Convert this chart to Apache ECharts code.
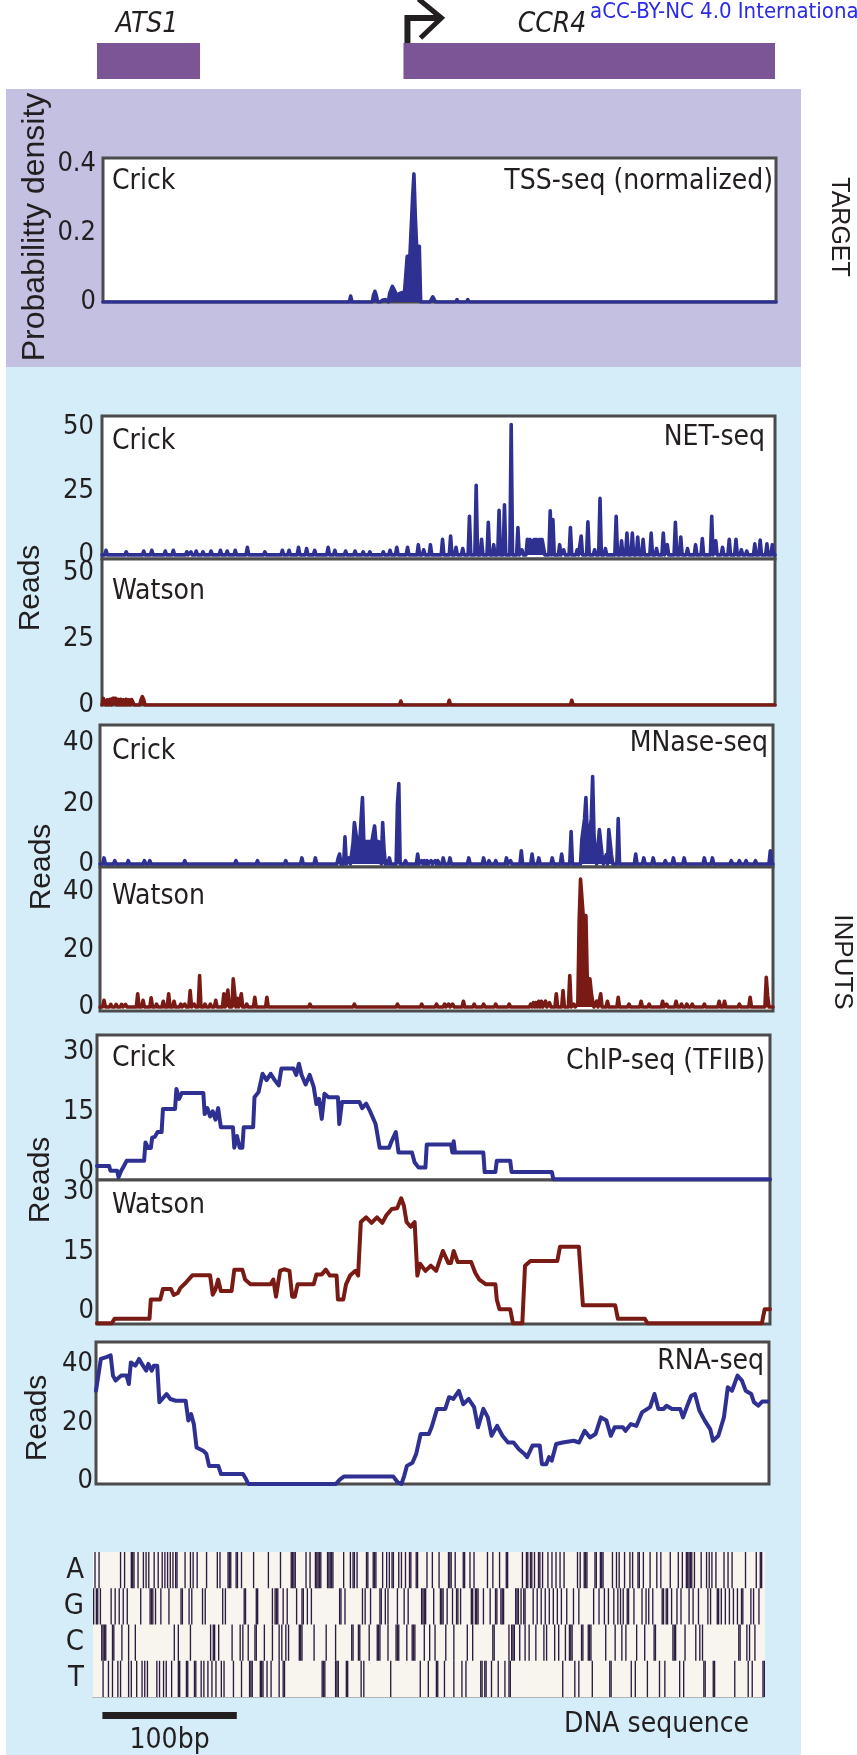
<!DOCTYPE html>
<html>
<head>
<meta charset="utf-8">
<title>CCR4 locus tracks</title>
<script src="https://cdn.jsdelivr.net/npm/echarts@6.0.0/dist/echarts.min.js"></script>
<style>
  html, body { margin: 0; padding: 0; background: #fff; }
  #main { width: 857px; height: 1755px; }
</style>
</head>
<body>
<div id="main"></div>
<script>
// window is 500 bp wide, positions below are bp from the left edge
var windowEnd = 500;

// genes
var geneNames = ['ATS1', 'CCR4'];
var geneStart = [0, 226];
var geneEnd = [76, 500];
var geneArrow = [0, 1];

// tick labels
var tssTicks = [0, 0.2, 0.4];
var netTicks = [0, 25, 50];
var mnaseTicks = [0, 20, 40];
var chipTicks = [0, 15, 30];
var rnaTicks = [0, 20, 40];

// TSS-seq (normalized), Crick: [bp, probability density]
var tssCrick = [[184,0.017],[201,0.02],[202,0.031],[203,0.02],[207,0.005],[208,0.006],[209,0.005],[210,0.007],[211,0.008],
  [213,0.025],[214,0.035],[215,0.045],[216,0.049],[217,0.03],[218,0.018],[219,0.022],[220,0.024],[221,0.024],[222,0.027],
  [223,0.028],[224,0.028],[225,0.03],[226,0.132],[227,0.132],[228,0.132],[229,0.132],[230,0.3],[231,0.37],[232,0.25],
  [233,0.161],[234,0.161],[235,0.161],[244,0.008],[245,0.015],[246,0.008],[263,0.007],[271,0.007]];

// NET-seq reads: [bp, reads]
var netCrick = [[3,1.8],[18,1.2],[31,1.5],[37,1.8],[47,1.5],[53,1.8],[63,1.2],[66,1.2],[70,1.5],[75,1.2],[81,1.5],[88,1.8],
  [93,1.5],[99,1.8],[108,3],[121,1.2],[134,1.8],[139,1.8],[146,3],[152,2.5],[158,1.8],[168,3],[173,1.8],[181,1.5],[188,1.5],
  [194,1.2],[199,1.2],[209,1.2],[214,1.8],[219,3],[227,3],[235,4],[239,2],[244,4],[253,6.1],[259,7.4],[263,3],[268,2.5],
  [273,15.1],[278,27.2],[282,6.1],[287,12.7],[291,4],[295,17.4],[299,19.6],[304,51],[309,10.7],[312,2],[316,6.1],[317,4.5],
  [318,6],[319,6],[320,5],[321,6],[322,6],[323,6],[324,4],[325,6],[326,6],[327,6],[328,6.1],[333,17.2],[335,13.8],[340,4],
  [343,2],[348,10.7],[353,2],[356,7.4],[361,12.9],[366,2],[370,22.1],[374,2.5],[382,15.1],[386,5.5],[390,8.5],[394,8.5],
  [398,7],[402,6.1],[408,8.5],[412,2.5],[417,8.5],[420,4],[426,12.7],[430,7],[435,2.5],[441,4],[446,6.4],[453,15.1],
  [456,5.5],[461,3],[466,6.1],[471,6.1],[475,2],[479,1.5],[485,4.3],[489,5.8],[494,4.3],[498,4]];
var netWatson = [[1,2.5],[2,2],[4,2],[6,2.2],[8,2.5],[9,3.2],[10,2.5],[12,2.2],[14,2.2],[16,2],[18,2.2],[20,2],[22,2.1],
  [23,1.5],[29,2],[30,3.2],[31,2],[222,1.5],[258,1.8],[349,1.8]];

// MNase-seq reads: [bp, reads]
var mnaseCrick = [[3,2],[11,1.1],[21,1.1],[33,1.1],[37,1.1],[63,1.1],[101,1.1],[117,1.1],[138,1.1],[150,2],[160,2],[177,2],
  [178,3.3],[182,9],[185,2],[188,7],[189,13.7],[190,13.7],[191,7.4],[192,7.4],[193,7.4],[194,15],[195,22],[196,7.4],
  [197,7.4],[198,7.4],[199,7.4],[200,7.4],[201,7.4],[202,7.4],[203,7.4],[204,12.6],[205,7.4],[206,7.4],[207,7.4],[208,2],
  [210,13.7],[211,5],[213,1],[215,2],[221,20],[222,26.6],[227,1.1],[236,3.3],[239,1.1],[241,1.1],[243,1.1],[246,1.1],
  [249,1.1],[251,1.1],[255,2],[260,2],[274,2],[285,2],[289,1.1],[294,1.1],[302,2],[305,1.1],[313,4.4],[321,3.3],[326,2],
  [336,2],[343,3.3],[350,10.7],[358,8.2],[359,8],[360,15],[361,22],[362,10],[363,8],[364,8],[365,15],[366,28.9],[367,10],
  [368,3],[371,11.4],[372,11.4],[373,3],[376,3],[378,11.4],[379,11.4],[380,3],[385,15],[398,3.3],[404,2],[411,2],[420,1.1],
  [426,2],[434,2],[449,2],[455,2],[469,1.1],[475,1.1],[480,1.1],[487,1.1],[498,4.4]];
var mnaseWatson = [[3,2.3],[8,0.9],[12,0.9],[16,0.9],[19,0.9],[28,4.6],[32,2.3],[38,3.2],[42,1],[47,2],[51,4.6],[55,2],
  [60,1],[63,1],[67,5.7],[70,1],[74,10.9],[78,1],[82,1],[86,2.3],[92,4.6],[95,5.9],[99,9.8],[100,5],[102,3],[105,4.6],
  [109,1],[115,3.4],[124,3.4],[156,1],[189,1],[221,1],[239,1],[250,1],[256,1],[259,1],[262,1],[270,2],[278,1],[285,1],
  [294,1],[304,1],[320,1],[322,1.5],[324,1.5],[326,2],[328,2],[331,2],[334,1.5],[339,4.6],[344,5.7],[349,10.9],[352,1],
  [355,1],[356,30],[357,44.5],[358,44.5],[359,31.8],[360,31.8],[361,31.8],[362,9.8],[363,9.8],[364,9.8],[365,5],[366,2],
  [369,2],[372,4.6],[377,2],[385,3.4],[393,1],[402,2],[408,1],[418,2],[421,1],[428,2],[432,1],[436,1],[440,1],[449,1],
  [460,2],[464,2],[475,1],[483,3.4],[495,10.3],[496,4]];

// ChIP-seq (TFIIB) reads: [bp, reads]
var chipCrick = [[0,1.5],[9,1.5],[10,0.3],[15,0.3],[16,-1.3],[18,0.3],[20,1.5],[22,2.8],[35,2.8],[36,7.4],[38,6],[40,6],
  [41,8.6],[43,8.8],[45,10],[48,10],[49,15.8],[58,15.8],[59,20.8],[61,18.3],[63,19.8],[79,19.8],[80,14.5],[82,16],[84,13.9],
  [86,15.2],[88,13.1],[90,16],[92,11.2],[101,11.2],[102,6.1],[104,9],[106,6.1],[108,6.1],[109,11.2],[116,11.2],[117,18.7],
  [120,20],[123,24.6],[126,23],[129,24.6],[132,23],[135,21.7],[137,25.9],[146,25.9],[148,24.3],[150,27.1],[152,24.3],
  [155,21.9],[158,24.3],[161,21.3],[163,17],[165,18.3],[167,13.3],[169,19.6],[172,18.7],[179,18.7],[180,12],[182,17.5],
  [195,17.5],[197,16],[200,17.1],[203,15.1],[207,12],[210,6.1],[217,6.1],[219,7.8],[222,10],[224,4.9],[234,4.9],[236,2.4],
  [239,1.1],[244,1.1],[245,6.9],[263,6.9],[264,4.9],[265,7.7],[266,4.9],[287,4.9],[288,0],[296,0],[297,2.8],[307,2.8],
  [308,0],[338,0],[339,-1.8],[500,-1.8]];
var chipWatson = [[0,-3],[11,-3],[13,-1.9],[39,-1.9],[40,3],[47,3],[49,5.6],[55,5.6],[57,4.1],[60,4.6],[62,5.9],[66,7.2],
  [68,8],[71,9.1],[84,9.1],[86,4.2],[88,5.5],[90,8],[92,5.1],[100,5.1],[102,10.5],[108,10.5],[110,8],[114,6.8],[129,6.8],
  [131,8],[133,3.7],[136,10.2],[139,10.6],[143,10.2],[145,3.7],[147,3.7],[149,6.8],[161,6.8],[163,9.3],[167,9.3],[170,10.5],
  [173,9],[178,9],[179,3],[183,3],[185,6.8],[188,9],[192,10.2],[194,9],[196,22.5],[200,23.7],[204,22.3],[208,23.7],
  [212,22.3],[215,24.2],[219,25.8],[223,26],[226,28.5],[228,26.6],[230,22.5],[233,21.3],[236,22.5],[238,9],[240,12],
  [244,10.2],[248,11.5],[252,10.2],[255,13.2],[257,15.2],[261,12.2],[263,12.2],[265,15.2],[268,12.4],[278,12.4],[281,9.7],
  [284,8],[289,6.8],[296,6.8],[297,3],[299,0.5],[307,0.5],[309,-3],[316,-3],[318,11.5],[322,12.7],[342,12.7],[344,16.3],
  [358,16.3],[361,1.5],[385,1.5],[387,-1.9],[407,-1.9],[409,-3],[494,-3],[496,0.5],[500,0.5]];

// RNA-seq reads: [bp, reads]
var rnaReads = [[0,30.9],[3.6,41.8],[7.7,42.4],[10.9,43],[12.6,36.1],[14.6,34.4],[18.6,36.1],[22.7,36.1],[24.4,33.2],
  [25.9,40.6],[29.2,39.5],[32,41.8],[34.9,39.5],[37.3,37.8],[38.9,40.1],[41.4,37.8],[43,39.5],[45.5,39.5],[47.1,27],
  [50.3,28.7],[52.4,29.8],[55.2,28.1],[59.3,27.5],[66.6,27.5],[68.6,20.7],[70.7,22.9],[72.7,19.5],[74.7,11.5],[79.6,10.4],
  [82,9.3],[84,5.2],[90.9,5.2],[92.9,2.4],[109.2,2.4],[111.2,0.9],[113.2,-1],[178.2,-1],[181.1,0.5],[184.3,1.6],[220.8,1.6],
  [224.1,-0.4],[226.9,-1],[229,1.8],[231,5.2],[235.1,6.3],[237.9,9.3],[241.2,16.1],[247.3,16.1],[249.3,18.4],[253.4,24.7],
  [259.5,24.7],[262.3,28.7],[265.5,28.1],[269.6,30.9],[272.8,26.3],[276.9,28.1],[280.9,25.3],[283.8,18.4],[287.8,24.7],
  [291.1,21.8],[293.9,15.5],[298,18.9],[302,15.5],[306.1,13.2],[310.2,13.2],[314.2,10.9],[318.3,9.3],[320.3,8.2],
  [324.4,12.2],[329.7,12.2],[331.3,5.8],[334.5,5.8],[336.6,8.2],[338.6,7],[341.9,12.7],[346.7,13.2],[354.9,13.8],
  [358.9,13.2],[363,17.2],[367,14.9],[371.1,16.1],[375.1,21.8],[379.2,20.7],[382.4,15.5],[385.3,18.4],[391.4,18.4],
  [393.4,17.2],[397.4,19.5],[401.5,18.9],[405.6,23.5],[411.7,25.3],[414.9,29.8],[417.8,24.7],[421.8,24.7],[423.9,25.8],
  [427.9,24.7],[434,24.7],[436.1,21.8],[439.3,25.8],[442.2,29.2],[445,29.8],[448.3,24.1],[452.3,20.7],[456.3,17.8],
  [458.4,13.8],[462.4,15.5],[466.5,21.8],[469.4,32.1],[472.5,30.9],[476.6,36.1],[479.9,34.4],[482.7,30.9],[486.8,29.8],
  [488.8,27],[492.1,25.8],[494.9,27.2],[499,27.2]];

// DNA sequence: positions (bp) of each base
var baseNames = ['T', 'C', 'G', 'A'];
var posA = [1,4,20,23,28,29,30,33,37,39,41,45,48,51,53,55,57,59,61,62,68,72,74,77,84,92,94,100,101,102,106,107,110,119,130,
  139,147,148,149,150,158,161,165,166,167,168,169,174,175,176,177,178,186,191,193,194,196,203,204,208,209,210,215,218,220,
  222,223,227,229,232,235,236,240,241,248,252,257,264,265,266,269,275,276,280,283,293,297,302,307,308,319,322,323,325,326,
  328,331,332,334,338,341,344,347,350,360,362,365,366,367,373,374,377,378,379,386,389,391,395,399,401,405,406,409,414,419,
  422,429,435,438,441,442,443,444,445,447,452,456,458,460,463,469,472,475,485,493,496,497];
var posG = [0,2,3,5,13,16,19,22,25,35,42,43,44,46,50,56,65,66,71,73,81,83,96,98,112,113,121,122,133,135,136,137,141,144,151,
  155,156,159,162,183,184,187,200,202,206,213,214,217,219,226,231,234,244,245,246,247,253,258,259,260,263,267,270,271,273,
  281,282,284,285,286,290,295,299,300,303,304,305,314,315,316,318,320,321,327,330,333,336,339,342,345,348,352,357,361,372,
  376,380,383,387,390,392,394,397,398,402,408,411,413,416,423,424,426,427,430,434,437,443,446,450,457,459,464,465,467,470,
  473,476,479,482,483,489,491,495];
var posC = [6,7,8,9,14,15,21,26,31,60,63,72,87,89,90,93,103,109,111,115,120,121,127,133,138,140,143,145,153,154,155,164,173,
  180,192,193,197,198,205,211,212,213,219,225,226,227,233,237,238,239,246,250,254,262,268,278,282,297,298,309,311,312,313,
  317,321,324,329,335,337,343,346,351,354,355,356,363,364,368,369,370,381,388,393,396,404,410,417,418,431,432,433,440,448,
  451,453,480,481,486,488,492];
var posT = [7,11,14,18,20,26,28,32,36,38,40,47,49,52,54,58,63,64,69,70,75,76,80,82,85,88,91,95,97,104,110,116,117,118,124,125,
  126,129,132,138,141,142,170,171,172,180,181,182,188,189,199,201,221,243,249,255,256,261,268,274,277,288,289,291,292,296,
  301,306,309,310,349,358,361,371,384,385,400,403,412,421,425,436,439,454,455,461,462,477,487,490,498,499];

// scale bar
var scaleBarStart = 7;
var scaleBarLength = 100;
var scaleBarLabel = '100bp';

var BLUE = '#2e3192';
var RED = '#7a1a14';
var INK = '#231f20';
var FC = '"DejaVu Sans Condensed", "Liberation Sans Narrow", sans-serif';
var FS = '"Liberation Sans", Arial, sans-serif';

// sparse per-bp counts -> line points, positions without counts are 0
function countsToLine(pairs) {
  var sorted = pairs.slice().sort(function (a, b) { return a[0] - b[0]; });
  var has = {};
  sorted.forEach(function (p) { has[p[0]] = true; });
  var out = [[0, 0]];
  sorted.forEach(function (p) {
    if (!has[p[0] - 1]) out.push([p[0] - 1, 0]);
    out.push([p[0], p[1]]);
    if (!has[p[0] + 1]) out.push([p[0] + 1, 0]);
  });
  out.push([windowEnd, 0]);
  return out;
}

var chart = echarts.init(document.getElementById('main'), null, { renderer: 'canvas' });

// panel boxes
var panels = [
  { left: 103, top: 158,  height: 144, min: 0,    max: 0.416, ticks: tssTicks,   margin: 7 },
  { left: 102, top: 416,  height: 143, min: -1.6, max: 54.3,  ticks: netTicks,   margin: 8 },
  { left: 102, top: 559,  height: 146, min: 0,    max: 55.5,  ticks: netTicks,   margin: 8 },
  { left: 100, top: 725,  height: 142, min: -1,   max: 46,    ticks: mnaseTicks, margin: 6 },
  { left: 100, top: 867,  height: 144, min: -1.4, max: 48.7,  ticks: mnaseTicks, margin: 6 },
  { left: 97,  top: 1035, height: 145, min: -2,   max: 34.3,  ticks: chipTicks,  margin: 3 },
  { left: 97,  top: 1180, height: 144, min: -3.2, max: 33.1,  ticks: chipTicks,  margin: 3 },
  { left: 96,  top: 1342, height: 142, min: -1,   max: 47.6,  ticks: rnaTicks,   margin: 3 }
];

var grids = [], xAxes = [], yAxes = [], series = [];
panels.forEach(function (p, i) {
  grids.push({ left: p.left, top: p.top, width: 673, height: p.height, show: true,
    backgroundColor: '#ffffff', borderColor: '#4b4b4b', borderWidth: 3, z: 1 });
  xAxes.push({ type: 'value', gridIndex: i, min: 0, max: windowEnd, show: false });
  yAxes.push({ type: 'value', gridIndex: i, min: p.min, max: p.max,
    axisLine: { show: false }, axisTick: { show: false }, splitLine: { show: false },
    axisLabel: { customValues: p.ticks, margin: p.margin, fontSize: 27, fontFamily: FC, color: INK } });
});

function spikes(idx, pairs, color) {
  return { type: 'line', xAxisIndex: idx, yAxisIndex: idx, data: countsToLine(pairs), symbol: 'none', silent: true,
    lineStyle: { color: color, width: 3.6, join: 'round', cap: 'round' }, areaStyle: { color: color, opacity: 1 } };
}
function trace(idx, pairs, color) {
  return { type: 'line', xAxisIndex: idx, yAxisIndex: idx, data: pairs, symbol: 'none', silent: true,
    lineStyle: { color: color, width: 4, join: 'round', cap: 'round' } };
}
series.push(spikes(0, tssCrick, BLUE));
series.push(spikes(1, netCrick, BLUE));
series.push(spikes(2, netWatson, RED));
series.push(spikes(3, mnaseCrick, BLUE));
series.push(spikes(4, mnaseWatson, RED));
series.push(trace(5, chipCrick, BLUE));
series.push(trace(6, chipWatson, RED));
series.push(trace(7, rnaReads, BLUE));

// gene track
grids.push({ left: 97, top: 43, width: 678, height: 36, show: false });
xAxes.push({ type: 'value', gridIndex: 8, min: 0, max: windowEnd, show: false });
yAxes.push({ type: 'value', gridIndex: 8, min: 0, max: 1, show: false });
series.push({
  type: 'custom', xAxisIndex: 8, yAxisIndex: 8, silent: true, clip: false,
  data: geneStart.map(function (s, i) { return [s, geneEnd[i], geneArrow[i]]; }),
  encode: { x: [0, 1] },
  renderItem: function (params, api) {
    var s = api.coord([api.value(0), 1]);
    var e = api.coord([api.value(1), 0]);
    var kids = [{ type: 'rect', shape: { x: s[0], y: s[1], width: e[0] - s[0], height: e[1] - s[1] },
      style: { fill: '#7c5597' } }];
    if (api.value(2)) {
      var x0 = s[0] + 4, y0 = s[1];
      kids.push({ type: 'polyline', shape: { points: [[x0, y0], [x0, y0 - 25], [x0 + 33, y0 - 25]] },
        style: { stroke: INK, lineWidth: 6, fill: null } });
      kids.push({ type: 'polyline', shape: { points: [[x0 + 11, y0 - 44], [x0 + 34, y0 - 25], [x0 + 13, y0 - 5]] },
        style: { stroke: INK, lineWidth: 5, fill: null } });
    }
    return { type: 'group', children: kids };
  }
});

// DNA sequence track
grids.push({ left: 93, top: 1552, width: 672, height: 145, show: true, backgroundColor: '#f8f4ee', borderWidth: 0, z: 1 });
xAxes.push({ type: 'value', gridIndex: 9, min: 0, max: windowEnd,
  axisLine: { show: true, onZero: false, lineStyle: { color: '#a9a9a9', width: 1, type: 'dotted' } },
  axisTick: { show: false }, axisLabel: { show: false }, splitLine: { show: false } });
yAxes.push({ type: 'category', gridIndex: 9, data: baseNames,
  axisLine: { show: false }, axisTick: { show: false }, splitLine: { show: false },
  axisLabel: { interval: 0, margin: 9, fontSize: 29, fontFamily: FC, color: INK } });
var cells = [];
[posT, posC, posG, posA].forEach(function (list, row) {
  list.forEach(function (p) { cells.push([p, row]); });
});
series.push({
  type: 'custom', xAxisIndex: 9, yAxisIndex: 9, silent: true, data: cells,
  renderItem: function (params, api) {
    var a = api.coord([api.value(0), api.value(1)]);
    var b = api.coord([api.value(0) + 1, api.value(1)]);
    var h = api.size([0, 1])[1];
    return { type: 'rect', shape: { x: a[0], y: a[1] - h / 2, width: b[0] - a[0], height: h },
      style: { fill: '#2b1c40' } };
  }
});
series.push({
  type: 'custom', xAxisIndex: 9, yAxisIndex: 9, silent: true, clip: false,
  data: [[scaleBarStart, scaleBarStart + scaleBarLength, 0]],
  encode: { x: [0, 1], y: 2 },
  renderItem: function (params, api) {
    var a = api.coord([api.value(0), 0]);
    var b = api.coord([api.value(1), 0]);
    var y = params.coordSys.y + params.coordSys.height + 15;
    return { type: 'group', children: [
      { type: 'rect', shape: { x: a[0], y: y, width: b[0] - a[0], height: 7 }, style: { fill: INK } },
      { type: 'text', style: { x: (a[0] + b[0]) / 2, y: y + 29, text: scaleBarLabel, fill: INK,
        fontSize: 28, fontFamily: FC, textAlign: 'center', textVerticalAlign: 'middle' } }
    ] };
  }
});

function label(x, y, text, opts) {
  opts = opts || {};
  return { type: 'text', x: x, y: y, rotation: opts.rotation || 0, z: 20, silent: true,
    style: { text: text, fill: opts.color || INK, fontSize: opts.size || 28, fontFamily: opts.family || FC,
      fontStyle: opts.italic ? 'italic' : 'normal',
      textAlign: opts.align || 'left', textVerticalAlign: 'middle' } };
}

var graphics = [
  { type: 'rect', shape: { x: 6, y: 89, width: 795, height: 278 }, style: { fill: '#c4c0e1' }, z: -10, silent: true },
  { type: 'rect', shape: { x: 6, y: 367, width: 795, height: 1388 }, style: { fill: '#d5ecf9' }, z: -10, silent: true },
  label(147, 25, 'ATS1', { italic: true, align: 'center' }),
  label(552, 25, 'CCR4', { italic: true, align: 'center' }),
  label(590, 12, 'aCC-BY-NC 4.0 Internationa', { color: '#2a2ae8', size: 22 }),
  label(35, 227, 'Probabilitty density', { family: FS, size: 32, align: 'center', rotation: Math.PI / 2 }),
  label(839, 227, 'TARGET', { family: FS, size: 25, align: 'center', rotation: -Math.PI / 2 }),
  label(842, 962, 'INPUTS', { family: FS, size: 26, align: 'center', rotation: -Math.PI / 2 }),
  label(31, 588, 'Reads', { family: FS, size: 30, align: 'center', rotation: Math.PI / 2 }),
  label(42, 867, 'Reads', { family: FS, size: 30, align: 'center', rotation: Math.PI / 2 }),
  label(41, 1180, 'Reads', { family: FS, size: 30, align: 'center', rotation: Math.PI / 2 }),
  label(38, 1418, 'Reads', { family: FS, size: 30, align: 'center', rotation: Math.PI / 2 }),
  label(112, 182, 'Crick'),
  label(773, 182, 'TSS-seq (normalized)', { align: 'right' }),
  label(112, 442, 'Crick'),
  label(765, 438, 'NET-seq', { align: 'right' }),
  label(112, 592, 'Watson'),
  label(112, 752, 'Crick'),
  label(768, 744, 'MNase-seq', { align: 'right' }),
  label(112, 897, 'Watson'),
  label(112, 1059, 'Crick'),
  label(765, 1062, 'ChIP-seq (TFIIB)', { align: 'right' }),
  label(112, 1206, 'Watson'),
  label(764, 1362, 'RNA-seq', { align: 'right' }),
  label(749, 1725, 'DNA sequence', { align: 'right' })
];

chart.setOption({
  animation: false,
  backgroundColor: '#ffffff',
  grid: grids,
  xAxis: xAxes,
  yAxis: yAxes,
  series: series,
  graphic: graphics
});
</script>
</body>
</html>
